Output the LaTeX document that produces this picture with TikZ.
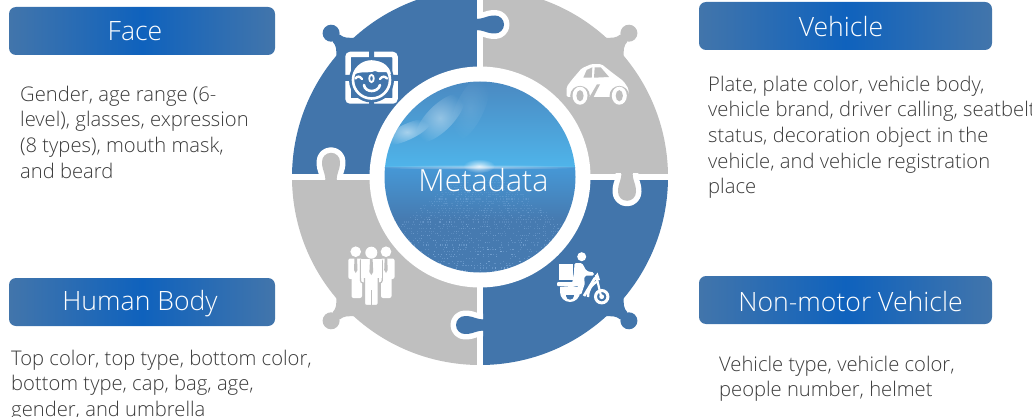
\documentclass[tikz,border=0pt]{standalone}
\usepackage{fontspec}
\setmainfont{Open Sans}[UprightFont=* Light]
\usetikzlibrary{fadings}
\tikzfading[name=softout,inner color=transparent!0,outer color=transparent!100]
\definecolor{pblue}{HTML}{4275AB}
\definecolor{pgray}{HTML}{BFBFBF}
\definecolor{hmid}{HTML}{0F62BD}
\definecolor{txt}{HTML}{3A3A3A}
\definecolor{skytop}{HTML}{4A88C0}
\definecolor{skylow}{HTML}{4FB4EA}
\definecolor{seatop}{HTML}{4698D6}
\definecolor{seamid}{HTML}{467AB0}
\definecolor{dotc}{HTML}{9CC4F0}
\tikzset{
  x=1pt,y=-1pt,
  header/.style={rounded corners=7pt,left color=pblue,right color=pblue,middle color=hmid,draw=none},
  headtext/.style={text=white,font=\fontsize{26.6}{30}\selectfont,inner sep=0pt},
  body/.style={text=txt,font=\fontsize{20.2}{25.7}\selectfont,align=left,anchor=north west,inner sep=0pt},
}
\newcommand{\knobshape}{(-5,6) .. controls (3,4.5) and (5,9) .. (15,9) .. controls (20,9) and (24,5) .. (24,0) .. controls (24,-5) and (20,-9) .. (15,-9) .. controls (5,-9) and (3,-4.5) .. (-5,-6) -- cycle}
\newcommand{\knob}[4]{% x y rot colour
  \begin{scope}[shift={(#1,#2)},rotate=#3]
    \begin{scope}
      \clip (-3,-30) rectangle (40,30);
      \draw[white,line width=11pt,line join=round] \knobshape;
    \end{scope}
    \fill[#4] \knobshape;
  \end{scope}}
\newcommand{\diagknob}[2]{% rot colour
  \begin{scope}[shift={(480,177)},rotate=#1]
    \fill[#2] (186,14) .. controls (192,8) and (194,5.5) .. (200,5) -- (200,-5) .. controls (194,-5.5) and (192,-8) .. (186,-14) -- cycle;
    \fill[#2] (207,0) circle[radius=8.5];
  \end{scope}}
\begin{document}
\begin{tikzpicture}
\useasboundingbox (0,0) rectangle (1032,417);
% quadrants
\begin{scope}
  \clip (480,177) circle[radius=188];
  \fill[pblue] (280,-20) rectangle (477,173.6);
  \fill[pgray] (483,-20) rectangle (680,173.6);
  \fill[pgray] (280,180) rectangle (477,380);
  \fill[pblue] (483,180) rectangle (680,380);
\end{scope}
\diagknob{136}{pblue}
\diagknob{44}{pgray}
\diagknob{-136}{pgray}
\diagknob{-44}{pblue}
\knob{480}{24.5}{0}{pblue}
\knob{480}{325}{180}{pblue}
\knob{627}{176.8}{-90}{pgray}
\knob{331}{176.8}{90}{pgray}
% centre
\fill[white] (480,177) circle[radius=110.5];
\begin{scope}
  \clip (480,177) circle[radius=95.5];
  \shade[top color=skytop,bottom color=skylow] (380,78) rectangle (580,167);
  \shade[top color=seatop,bottom color=seamid] (380,167) rectangle (580,220);
  \fill[seamid] (380,219.5) rectangle (580,275);
  \fill[white,opacity=.5,path fading=softout] (479,167) ellipse[x radius=110,y radius=2.5];
  \fill[white,opacity=.75,path fading=softout] (479,166) ellipse[x radius=16,y radius=7];
  \begin{scope}[shift={(407,132)},rotate=25]
    \fill[white,opacity=.5,path fading=softout] (0,0) ellipse[x radius=26,y radius=8];
  \end{scope}
  \begin{scope}[shift={(440,118)},rotate=45]
    \fill[white,opacity=.4,path fading=softout] (0,0) ellipse[x radius=32,y radius=13];
  \end{scope}
  \begin{scope}[shift={(470,108)},rotate=65]
    \fill[white,opacity=.1,path fading=softout] (0,0) ellipse[x radius=35,y radius=14];
  \end{scope}
  \pgfmathsetseed{42}
  \foreach \i in {1,...,1800}{
    \pgfmathsetmacro{\yy}{272-round(rnd*40)*2.3}
    \pgfmathsetmacro{\kk}{round((rnd-0.5)*90)}
    \pgfmathsetmacro{\xx}{480+\kk*(\yy-160)*0.028}
    \pgfmathsetmacro{\ss}{0.5+(\yy-170)/130}
    \pgfmathsetmacro{\op}{0.1+(\yy-175)/97*0.24}
    \fill[dotc,opacity=\op] (\xx,\yy) rectangle ++(\ss,1.1);
  }
\end{scope}
% face icon
\begin{scope}
  \draw[white,line width=5.5pt,rounded corners=2.5pt] (348,54.5) rectangle (395,101);
  \fill[pblue] (371.5,80) circle[radius=22.5];
  \fill[pblue] (369,50) rectangle (374,60) (369,96) rectangle (374,106) (343,75) rectangle (353,81) (390,75) rectangle (400,81);
  \draw[white,line width=2.6pt] (371.5,80) circle[radius=18.5];
  \fill[white] (353,76) .. controls (356,64) and (366,60) .. (372,61) .. controls (384,60) and (390,68) .. (391,74) .. controls (385,70) and (380,74) .. (375,71) .. controls (368,74) and (358,70) .. (353,76) -- cycle;
  \draw[white,line width=2.4pt,line cap=round] (362,79) .. controls (360,76) and (357,76) .. (355.5,78.5);
  \draw[white,line width=2.4pt,line cap=round] (380,79) .. controls (382,76) and (385,76) .. (387,78.5);
  \draw[white,line width=1.8pt] (371.5,78.5) ellipse[x radius=2.3,y radius=3.6];
  \draw[white,line width=2.6pt,line cap=round] (364,85) .. controls (365,93) and (378,93) .. (380,85);
\end{scope}
% car icon
\begin{scope}
  \fill[white,rounded corners=1.5pt] (566.7,97) -- (566.7,86.7) -- (571.7,80) -- (581.7,68.3) -- (591.7,64) -- (601.7,64.3) -- (611.7,72.3) -- (623.3,81) -- (628.3,88.3) -- (629,97) -- cycle;
  \fill[pgray] (583.3,77.7) -- (586.7,70) -- (592.3,67.3) -- (591.7,77.7) -- cycle;
  \fill[pgray] (594,77.7) -- (594.7,67.3) -- (600.7,67.3) -- (609,77) -- cycle;
  \fill[pgray] (597,84.3) -- (600,84.3) -- (593.5,97) -- (589.5,97) -- cycle;
  \foreach \wx in {580,619.3}{
    \fill[pgray] (\wx,95.7) circle[radius=9.8];
    \fill[white] (\wx,95.7) ellipse[x radius=7.5,y radius=9];
    \fill[pgray] (\wx,95.7) ellipse[x radius=3.6,y radius=5.6];
  }
\end{scope}
% people icon
\begin{scope}
  \fill[white] (355.7,251.7) circle[radius=5.3] (386,251.7) circle[radius=5.3];
  \fill[white,rounded corners=2pt] (348.3,258.5) rectangle (363,279);
  \fill[white,rounded corners=2pt] (351.5,262) rectangle (362,298);
  \fill[white,rounded corners=2pt] (380,258.5) rectangle (394.5,279);
  \fill[white,rounded corners=2pt] (381,262) rectangle (391.5,298);
  \fill[pgray] (354.5,258) -- (357,258) -- (357.5,270) -- (355.7,273) -- (354,270) -- cycle;
  \fill[pgray] (384.7,258) -- (387.2,258) -- (387.7,270) -- (386,273) -- (384.2,270) -- cycle;
  \draw[pgray,line width=1.2pt,fill=white,rounded corners=2.5pt] (360.5,258.5) rectangle (382.2,283);
  \draw[pgray,line width=1.2pt,fill=white,rounded corners=2pt] (364.5,262) rectangle (378.2,305.5);
  \fill[white] (361.2,259) rectangle (381.6,278);
  \fill[white] (371.3,252.7) circle[radius=6];
  \fill[pgray] (370,259) -- (372.6,259) -- (373.2,272) -- (371.3,275) -- (369.4,272) -- cycle;
  \fill[pgray] (371,290) rectangle (371.6,306);
\end{scope}
% moto icon
\begin{scope}
  \fill[white] (581.7,256.7) circle[radius=4.5];
  \fill[white] (559.3,264.3) rectangle (572.5,280);
  \fill[white,rounded corners=1.5pt] (574.5,263) -- (582,263) -- (586.5,271) -- (594,272.5) -- (594,275.5) -- (585,275.5) -- (584,280) -- (585,283) -- (581,295) -- (576,293) -- (578,285) -- (572,284) -- (574,272) -- cycle;
  \fill[white,rounded corners=1pt] (557,282) -- (578,282) -- (578,286) -- (572,287) -- (557,286) -- cycle;
  \begin{scope}
    \clip (555,288) rectangle (585,305);
    \fill[white] (570,292) circle[radius=10];
  \end{scope}
  \fill[white] (560,287) rectangle (578,292);
  \begin{scope}
    \clip (560,295.7) rectangle (580,305);
    \fill[pblue] (570,295.7) circle[radius=4];
  \end{scope}
  \draw[white,line width=2.8pt] (584,296) -- (595,278);
  \draw[white,line width=2.4pt] (588,297) .. controls (588,289) and (592,284) .. (598,281);
  \draw[white,line width=2.2pt] (596,275) -- (601,296);
  \fill[white] (597.5,272.5) -- (592.5,280) -- (600,280) -- cycle;
  \draw[white,line width=3pt] (601.7,296.7) circle[radius=6.2];
  \fill[white] (601.7,296.7) circle[radius=2.4];
\end{scope}
% headers
\shade[header] (9,7) rectangle (275,55);
\shade[header] (699,2) rectangle (992,50);
\shade[header] (9,278) rectangle (275,326);
\shade[header] (699,276) rectangle (992,324);
\node[headtext] (hface) at (135,31.5) {Face};
\node[headtext] (hveh) at (841,26.5) {Vehicle};
\node[headtext] (hbody) at (140,304) {Human Body};
\node[headtext] (hnon) at (850.5,302) {Non-motor Vehicle};
\node[text=white,font=\fontsize{30.5}{36}\selectfont,inner sep=0pt] (meta) at (483.5,180) {Metadata};
\node[body] (tface) at (20,85.5) {Gender, age range (6-\\level), glasses, expression\\(8 types), mouth mask,\\and beard};
\node[body] (tveh) at (708,75.5) {Plate, plate color, vehicle body,\\vehicle brand, driver calling, seatbelt\\status, decoration object in the\\vehicle, and vehicle registration\\place};
\node[body] (tbody) at (11,349.5) {Top color, top type, bottom color,\\bottom type, cap, bag, age,\\gender, and umbrella};
\node[body] (tnon) at (719,355.5) {Vehicle type, vehicle color,\\people number, helmet};
\end{tikzpicture}
\end{document}
